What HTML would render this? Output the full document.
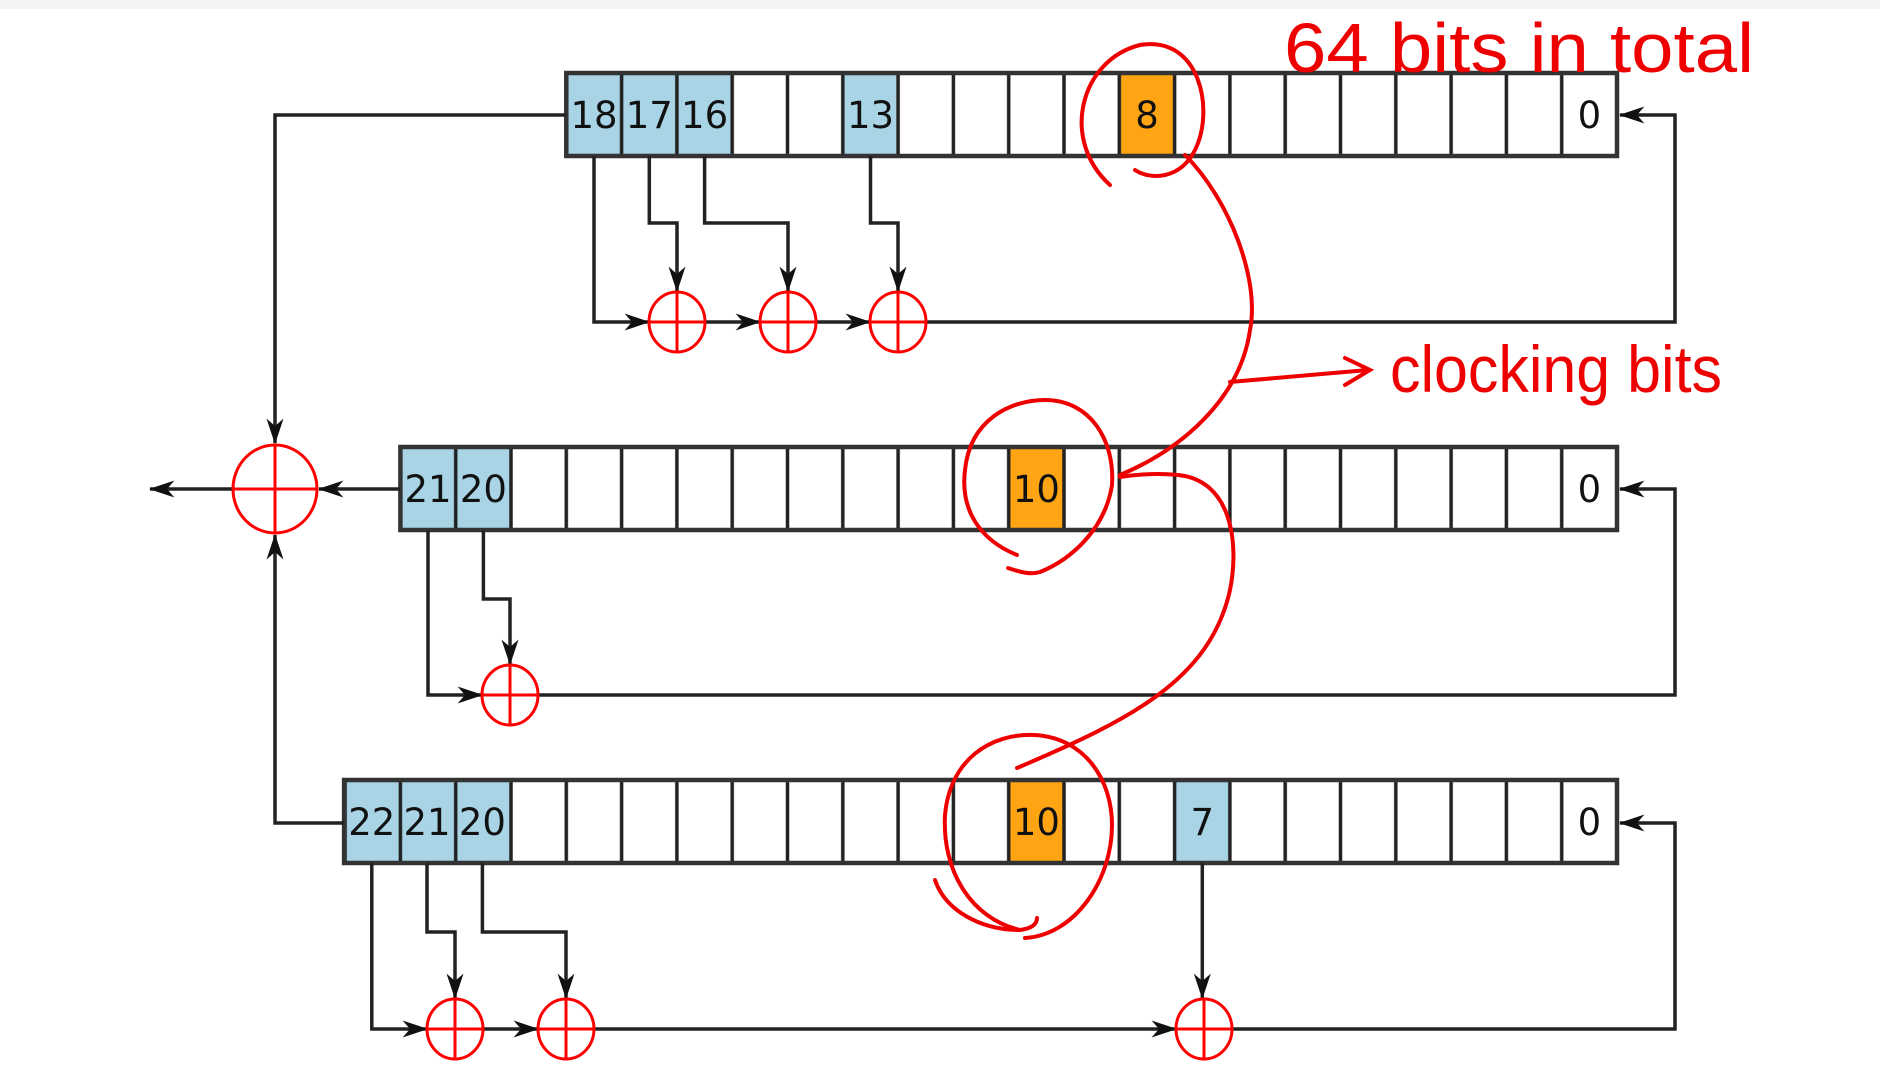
<!DOCTYPE html>
<html><head><meta charset="utf-8"><style>
html,body{margin:0;padding:0;background:#fff;}
svg{display:block;}
</style></head><body>
<svg width="1880" height="1080" viewBox="0 0 1880 1080" xmlns="http://www.w3.org/2000/svg">
<defs>
<marker id="ar" viewBox="0 0 24 16" refX="23" refY="8" markerWidth="26" markerHeight="17" markerUnits="userSpaceOnUse" orient="auto">
<path d="M0,0 L24,8 L0,16 L7,8 Z" fill="#111"/>
</marker>
<pattern id="cells" patternUnits="userSpaceOnUse" x="1617" y="0" width="55.3" height="1080">
<rect x="-1.75" y="0" width="3.5" height="1080" fill="#222"/>
<rect x="53.55" y="0" width="3.5" height="1080" fill="#222"/>
</pattern>
</defs>
<rect x="0" y="0" width="1880" height="9" fill="#f4f4f4"/>

<g>
<rect x="566.3" y="73" width="166" height="83" fill="#a8d4e6"/>
<rect x="842.8" y="73" width="55.3" height="83" fill="#a8d4e6"/>
<rect x="1119.3" y="73" width="55.3" height="83" fill="#ffa514"/>
<rect x="400.4" y="447" width="110.6" height="83" fill="#a8d4e6"/>
<rect x="1008.7" y="447" width="55.3" height="83" fill="#ffa514"/>
<rect x="344.1" y="780" width="165.9" height="83" fill="#a8d4e6"/>
<rect x="1008.7" y="780" width="55.3" height="83" fill="#ffa514"/>
<rect x="1174.6" y="780" width="55.3" height="83" fill="#a8d4e6"/>
</g>
<rect x="566.3" y="73" width="1050.7" height="83" fill="url(#cells)"/>
<rect x="400.4" y="447" width="1216.6" height="83" fill="url(#cells)"/>
<rect x="344.1" y="780" width="1272.9" height="83" fill="url(#cells)"/>
<g fill="none" stroke="#333" stroke-width="4.5">
<rect x="566.3" y="73" width="1050.7" height="83"/>
<rect x="400.4" y="447" width="1216.6" height="83"/>
<rect x="344.1" y="780" width="1272.9" height="83"/>
</g>

<g font-family="DejaVu Sans, Liberation Sans, sans-serif" font-size="37" text-anchor="middle" fill="#111">
<text x="594" y="128">18</text><text x="649.3" y="128">17</text><text x="704.6" y="128">16</text>
<text x="870.5" y="128">13</text><text x="1147" y="128">8</text><text x="1589.4" y="128">0</text>
<text x="428" y="502">21</text><text x="483.4" y="502">20</text><text x="1036.4" y="502">10</text><text x="1589.4" y="502">0</text>
<text x="371.8" y="835">22</text><text x="427" y="835">21</text><text x="482.4" y="835">20</text>
<text x="1036.4" y="835">10</text><text x="1202.3" y="835">7</text><text x="1589.4" y="835">0</text>
</g>

<g stroke="#222" stroke-width="3.5" fill="none" marker-end="url(#ar)">
<path d="M594,156V322H649"/>
<path d="M649.3,156V223H677V291"/>
<path d="M704.6,156V223H788V291"/>
<path d="M870.5,156V223H898V291"/>
<path d="M705,322H760"/>
<path d="M816,322H870"/>
<path d="M926,322H1675V115H1620"/>
<path d="M428,530V695H482"/>
<path d="M483.4,530V599H510V664"/>
<path d="M538,695H1675V489H1620"/>
<path d="M371.8,863V1029H427"/>
<path d="M427,863V932H455V998"/>
<path d="M482.4,863V932H566V998"/>
<path d="M1202.3,863V998"/>
<path d="M483,1029H538"/>
<path d="M594,1029H1176"/>
<path d="M1232,1029H1675V823H1620"/>
<path d="M566.3,115H275V443"/>
<path d="M344.1,823H275V535"/>
<path d="M400.4,489H319"/>
<path d="M232,489H150"/>
</g>

<g stroke="#f00" stroke-width="3" fill="#fff">
<ellipse cx="677" cy="322" rx="28" ry="30"/><path d="M649,322H705M677,292V352"/>
<ellipse cx="788" cy="322" rx="28" ry="30"/><path d="M760,322H816M788,292V352"/>
<ellipse cx="898" cy="322" rx="28" ry="30"/><path d="M870,322H926M898,292V352"/>
<ellipse cx="510" cy="695" rx="28" ry="30"/><path d="M482,695H538M510,665V725"/>
<ellipse cx="455" cy="1029" rx="28" ry="30"/><path d="M427,1029H483M455,999V1059"/>
<ellipse cx="566" cy="1029" rx="28" ry="30"/><path d="M538,1029H594M566,999V1059"/>
<ellipse cx="1204" cy="1029" rx="28" ry="30"/><path d="M1176,1029H1232M1204,999V1059"/>
<ellipse cx="275" cy="489" rx="42" ry="44"/><path d="M233,489H317M275,445V533"/>
</g>

<g stroke="#e00" stroke-width="4" fill="none" stroke-linecap="round">
<path d="M1110,185 C1060,140 1080,60 1140,45 C1200,35 1215,110 1195,150 C1180,180 1150,180 1135,170"/>
<path d="M1185,155 C1230,200 1260,280 1250,330 C1240,400 1180,450 1120,475"/>
<path d="M1230,382 L1368,370"/>
<path d="M1345,358 L1370,370 L1345,385"/>
<path d="M1120,477 C1140,474 1160,473 1178,475 C1230,480 1240,540 1230,590 C1210,680 1130,720 1017,768"/>
<path d="M1017,555 C980,540 960,510 965,470 C970,420 1010,400 1045,400 C1090,400 1115,440 1112,485 C1105,530 1070,560 1040,572 C1030,575 1020,572 1008,568"/>
<path d="M935,880 C945,910 980,930 1020,930 C1035,928 1037,922 1037,918"/>
<path d="M1020,930 C970,918 942,870 945,815 C950,760 990,733 1035,735 C1085,738 1112,780 1112,825 C1112,880 1075,935 1025,938"/>
</g>
<g font-family="Liberation Sans Narrow, Liberation Sans, sans-serif" fill="#e00">
<text x="1284" y="72" font-size="70" textLength="470" lengthAdjust="spacingAndGlyphs">64 bits  in total</text>
<text x="1390" y="392" font-size="66" textLength="332" lengthAdjust="spacingAndGlyphs">clocking bits</text>
</g>
</svg>
</body></html>
